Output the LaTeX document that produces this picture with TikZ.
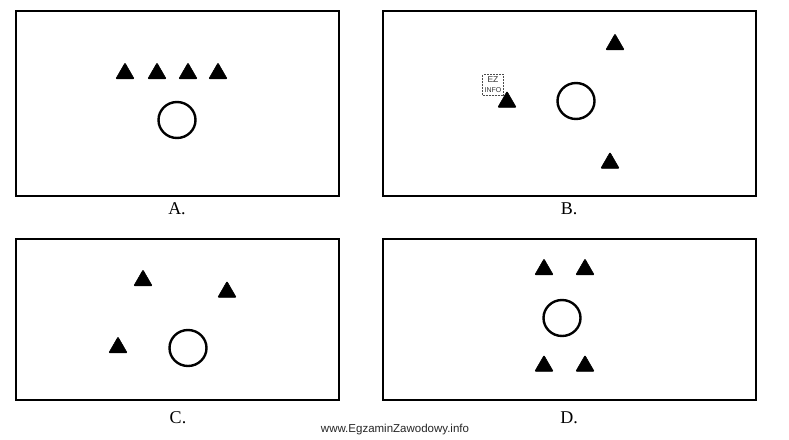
\documentclass[tikz,border=0pt]{standalone}
\usepackage{fontspec}
\setmainfont{Liberation Serif}
\newfontfamily\wmfont{Liberation Sans}
\usetikzlibrary{shapes.geometric}
\begin{document}
\begin{tikzpicture}[x=1pt,y=-1pt,
  panel/.style={draw=black,line width=1.3pt},
  tri/.style={regular polygon,regular polygon sides=3,fill=black,draw=black,line width=0.6pt,rounded corners=0.8pt,inner sep=0pt,minimum size=21pt},
  ring/.style={ellipse,draw=black,line width=2.4pt,inner sep=0pt,minimum width=37pt,minimum height=36pt},
  lab/.style={font=\fontsize{18}{20}\selectfont,inner sep=0pt},
  wm/.style={font=\wmfont\fontsize{11.5}{13}\selectfont,text=black!85,inner sep=0pt}]
\useasboundingbox (0,0) rectangle (789,439);
\fill[white] (0,0) rectangle (789,439);
% panels
\node[panel,minimum width=323pt,minimum height=185pt,inner sep=0pt] (pA) at (177.5,103.5) {};
\node[panel,minimum width=373pt,minimum height=185pt,inner sep=0pt] (pB) at (569.5,103.5) {};
\node[panel,minimum width=323pt,minimum height=161pt,inner sep=0pt] (pC) at (177.5,319.5) {};
\node[panel,minimum width=373pt,minimum height=161pt,inner sep=0pt] (pD) at (569.5,319.5) {};
% labels
\node[lab] (lA) at (177,209) {A.};
\node[lab] (lB) at (569,209) {B.};
\node[lab] (lC) at (178,418) {C.};
\node[lab] (lD) at (569,418) {D.};
% A
\node[tri] (a1) at (125,73.5) {};
\node[tri] (a2) at (157,73.5) {};
\node[tri] (a3) at (188,73.5) {};
\node[tri] (a4) at (218,73.5) {};
\node[ring] (ca) at (177,120) {};
% B
\node[tri] (b1) at (615,44.5) {};
\node[tri] (b2) at (507,102) {};
\node[tri] (b3) at (610,163) {};
\node[ring] (cb) at (576,101) {};
% C
\node[tri] (c1) at (143,280.5) {};
\node[tri] (c2) at (227,292) {};
\node[tri] (c3) at (118,347.5) {};
\node[ring] (cc) at (188,348) {};
% D
\node[tri] (d1) at (544,269.5) {};
\node[tri] (d2) at (585,269.5) {};
\node[tri] (d3) at (544,366) {};
\node[tri] (d4) at (585,366) {};
\node[ring] (cd) at (562,318) {};
% logo
\node[draw=black!70,densely dotted,line width=0.5pt,minimum width=21pt,minimum height=21pt,inner sep=0pt] (logo) at (493,85) {};
\node[font=\wmfont\fontsize{8.5}{8}\selectfont,inner sep=0pt,text=black!80] (logo1) at (493,79.5) {EZ};
\node[font=\wmfont\fontsize{7}{7}\selectfont,inner sep=0pt,text=black!80] (logo2) at (493,90) {INFO};
% watermark
\node[wm] (wmark) at (395,430) {www.EgzaminZawodowy.info};
\end{tikzpicture}
\end{document}
